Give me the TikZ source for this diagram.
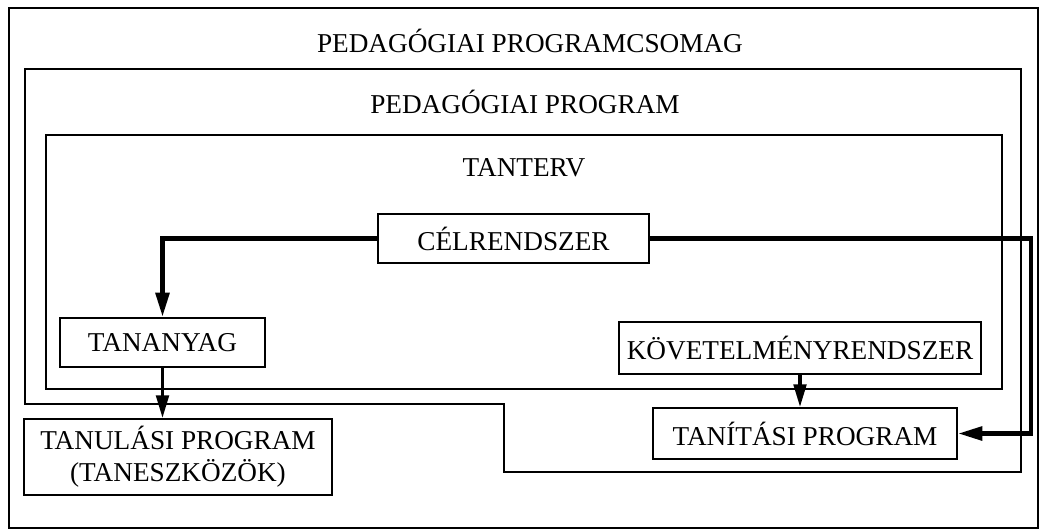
\documentclass[tikz,border=0pt]{standalone}
\usepackage{fontspec}
\setmainfont{Liberation Serif}
\usetikzlibrary{arrows.meta}
\begin{document}
\begin{tikzpicture}[x=0.02cm, y=-0.02cm,
  font=\fontsize{15.5}{18}\selectfont,
  box/.style={draw, line width=0.8pt, inner sep=0pt, align=center},
  frame/.style={draw, line width=0.7pt},
  flow/.style={-{Triangle[length=14pt,width=7.5pt]}, line width=2.8pt},
  down/.style={-{Triangle[length=13pt,width=7pt]}, line width=2.2pt}]
\useasboundingbox (0,0) rectangle (1040,531);
% nested frames
\draw[frame] (9,8) rectangle (1038,528);
\draw[frame] (25,69) -- (1021,69) -- (1021,472) -- (504,472) -- (504,404) -- (25,404) -- cycle;
\draw[frame] (46,135) rectangle (1002,389);
\node (csomag) at (530,41) {PEDAGÓGIAI PROGRAMCSOMAG};
\node (pedprog) at (525,102) {PEDAGÓGIAI PROGRAM};
\node (tanterv) at (524,168) {TANTERV};
% boxes
\node[box, minimum width=5.42cm, minimum height=0.98cm] (celrendszer) at (513.5,238.5) {CÉLRENDSZER};
\node[box, minimum width=4.1cm, minimum height=0.98cm] (tananyag) at (162.5,342.5) {TANANYAG};
\node[box, minimum width=7.24cm, minimum height=1.04cm] (kovetelmeny) at (800,348) {KÖVETELMÉNYRENDSZER};
\node[box, minimum width=6.16cm, minimum height=1.52cm] (tanulasi) at (178,457) {TANULÁSI PROGRAM\\(TANESZKÖZÖK)};
\node[box, minimum width=6.08cm, minimum height=1.02cm] (tanitasi) at (805,433.5) {TANÍTÁSI PROGRAM};
\coordinate (jobb) at (1031,240);
% connectors
\draw[flow] (celrendszer.west) -| (tananyag.north);
\draw[flow] (celrendszer.east) -- (celrendszer.east -| jobb) |- (tanitasi.east);
\draw[down] (tananyag.south) -- (tananyag.south |- tanulasi.north);
\draw[down] (kovetelmeny.south) -- (kovetelmeny.south |- tanitasi.north);
\end{tikzpicture}
\end{document}
